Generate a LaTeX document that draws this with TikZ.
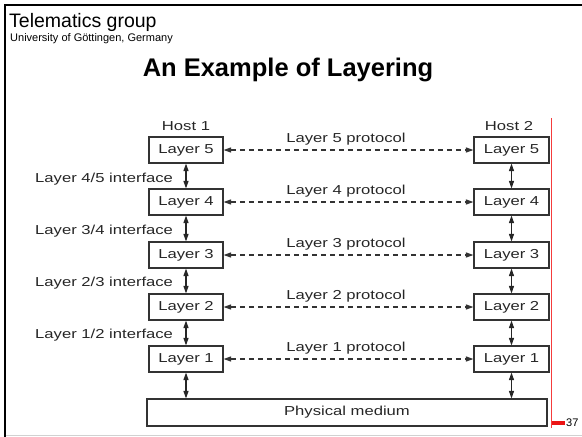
\documentclass[tikz,border=0pt]{standalone}
\usepackage{fontspec}
\setmainfont{Liberation Sans}
\newfontfamily\diagfont[FakeStretch=1.28]{Liberation Sans}
\usetikzlibrary{arrows.meta}
\definecolor{marker}{RGB}{235,20,20}
\definecolor{rule}{RGB}{245,60,60}

\begin{document}
\begin{tikzpicture}[x=1pt,y=-1pt,
  >={Triangle[length=7.5pt,width=5pt]},
  diagtext/.style={font=\diagfont\fontsize{13}{15}\selectfont, text=black!85, inner sep=0pt},
  layerbox/.style={diagtext, draw=black!80, line width=1.1pt, minimum width=74pt, minimum height=26pt},
  medium/.style={layerbox, minimum width=400pt, minimum height=27pt},
  iface/.style={diagtext, anchor=base west},
  proto/.style={diagtext, anchor=base},
  peer/.style={<->, black!80, line width=1.1pt, dash pattern=on 5pt off 4pt},
  stack/.style={<->, black!85, line width=1.1pt}]

\useasboundingbox (0,0) rectangle (582,437);

% slide frame
\draw[line width=2.2pt] (5,437) -- (5,5) -- (582,5);
\draw[black!18, line width=1.5pt] (6,435.5) -- (582,435.5);

% header
\node[anchor=base west, inner sep=0pt, font=\fontsize{19.5}{22}\selectfont] (group) at (9,27) {Telematics group};
\node[anchor=base west, inner sep=0pt, font=\fontsize{11}{13}\selectfont] (univ) at (10,41) {University of Göttingen, Germany};
\node[anchor=base, inner sep=0pt, font=\bfseries\fontsize{25.5}{30}\selectfont] (title) at (288,76) {An Example of Layering};

% hosts
\node[diagtext, anchor=base] (h1) at (186,130) {Host 1};
\node[diagtext, anchor=base] (h2) at (509,130) {Host 2};

\foreach \n/\y in {5/150,4/202,3/255,2/307,1/359}{
  \node[layerbox] (L\n) at (186,\y) {Layer \n};
  \node[layerbox, minimum width=75pt] (R\n) at (511.5,\y) {Layer \n};
  \draw[peer] (L\n) -- (R\n);
  \node[proto] (P\n) at (346,\y-8) {Layer \n\ protocol};
}

\node[medium] (phys) at (347,412.5) {Physical medium};

% vertical interfaces
\foreach \a/\b in {5/4,4/3,3/2,2/1}{
  \draw[stack] (L\a) -- (L\b);
  \draw[stack] (R\a) -- (R\b);
}
\draw[stack] (L1.south) -- (L1.south |- phys.north);
\draw[stack] (R1.south) -- (R1.south |- phys.north);

% interface labels
\node[iface] (i45) at (35,182) {Layer 4/5 interface};
\node[iface] (i34) at (35,234) {Layer 3/4 interface};
\node[iface] (i23) at (35,286) {Layer 2/3 interface};
\node[iface] (i12) at (35,338) {Layer 1/2 interface};

% page marker
\draw[rule, line width=1pt] (551.5,118) -- (551.5,428);
\fill[marker] (552,420.5) rectangle (565,424.5);
\node[anchor=west, inner sep=0pt, font=\fontsize{11}{13}\selectfont] (page) at (566,422.5) {37};

\end{tikzpicture}
\end{document}
